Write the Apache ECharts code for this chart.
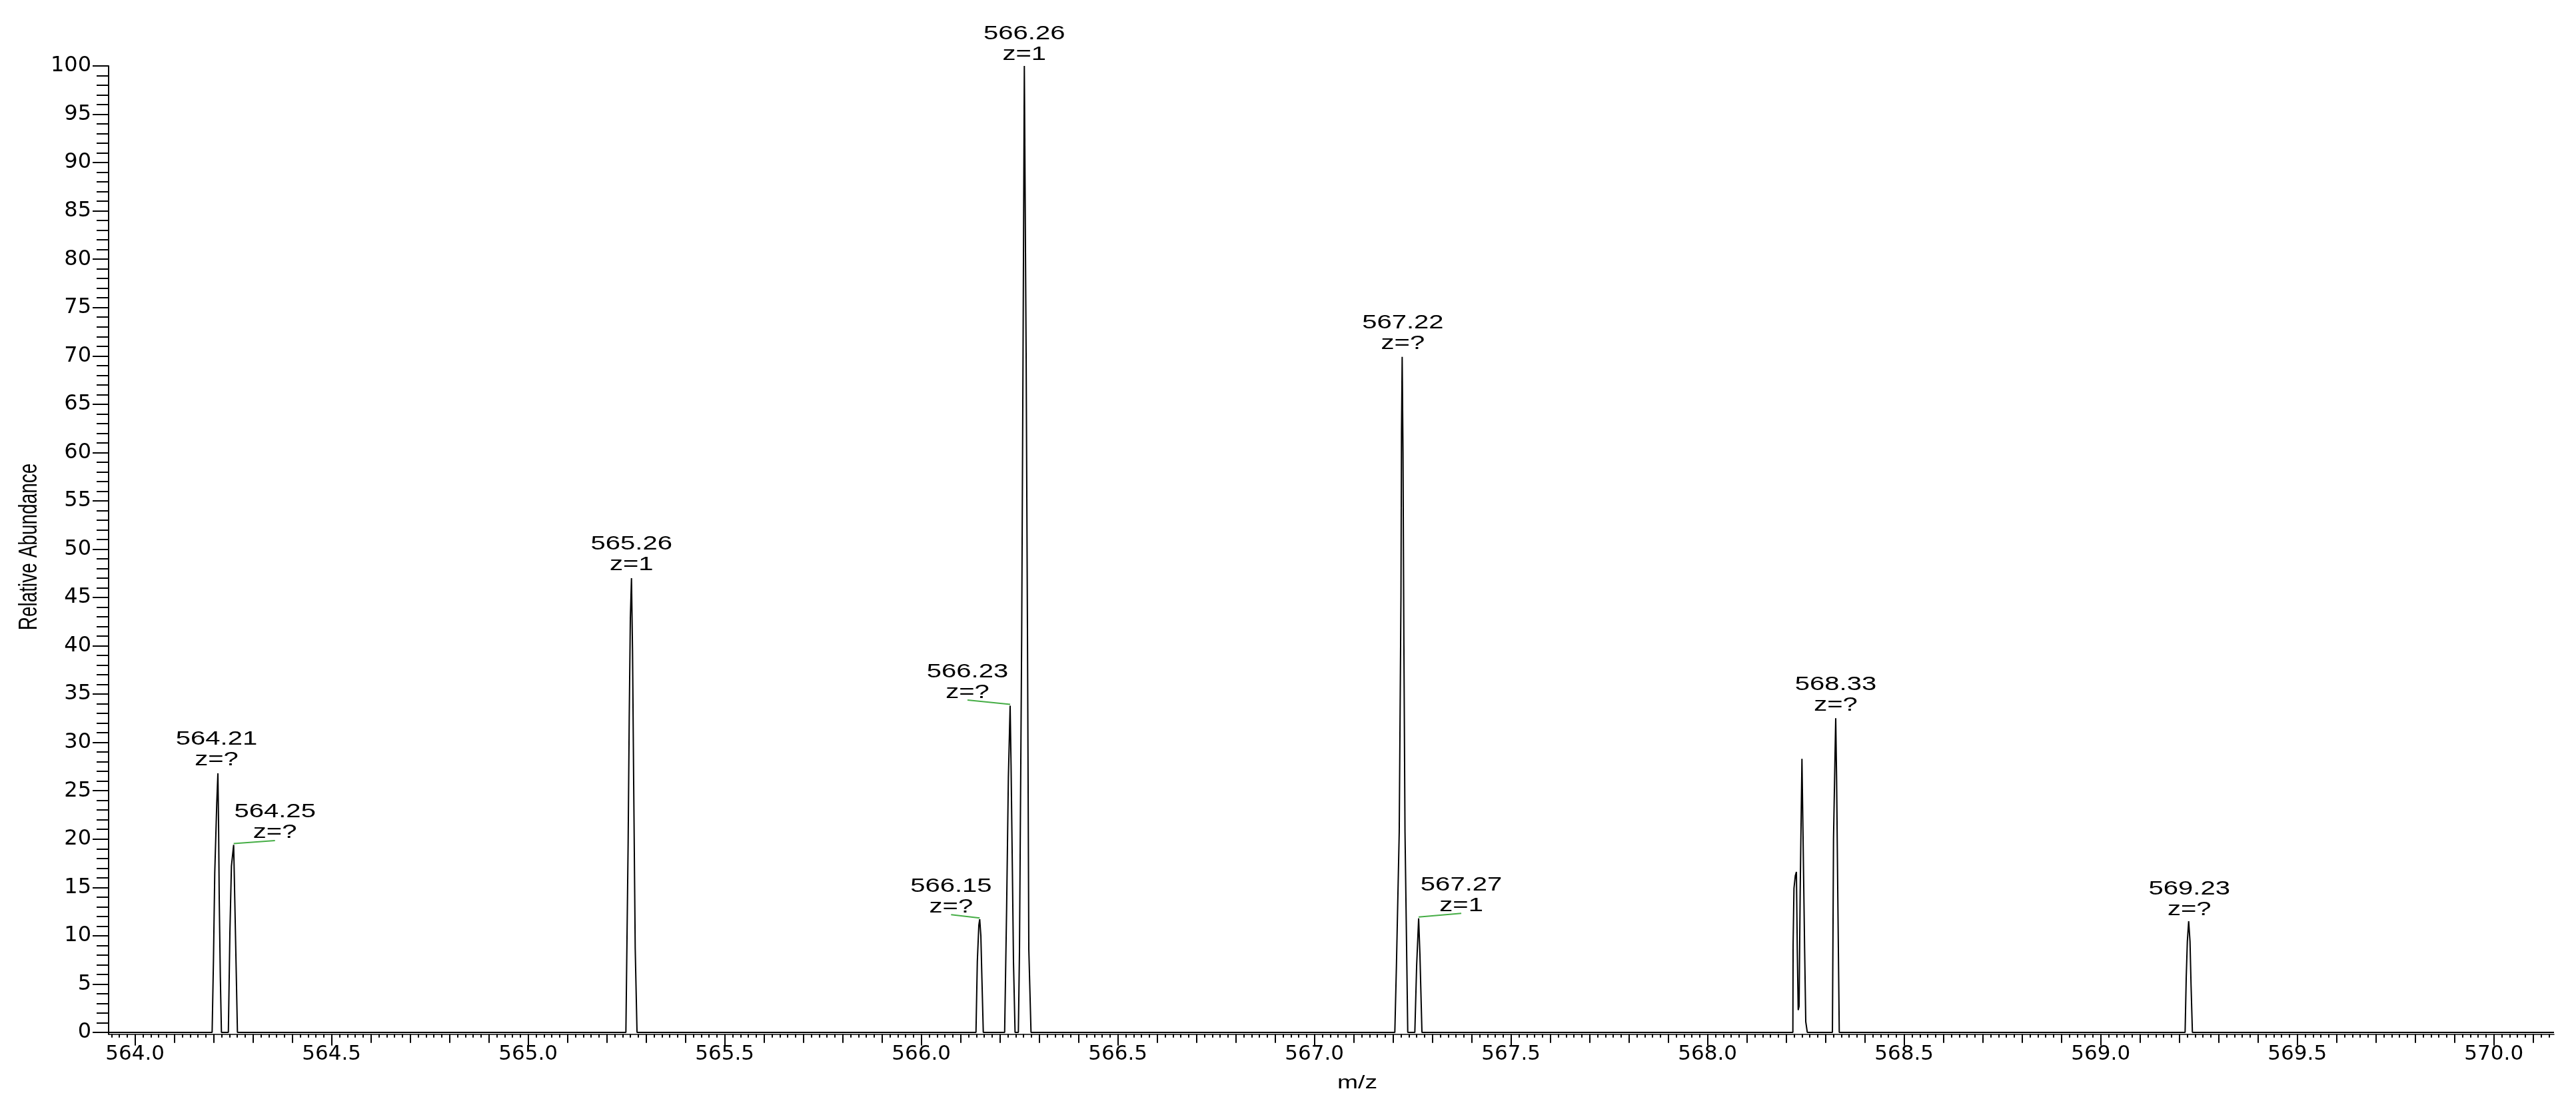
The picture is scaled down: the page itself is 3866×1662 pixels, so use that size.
<!DOCTYPE html>
<html>
<head>
<meta charset="utf-8">
<title>Mass spectrum</title>
<script src="https://cdn.jsdelivr.net/npm/echarts@6/dist/echarts.min.js"></script>
<style>
  html, body { margin: 0; padding: 0; background: #fff; }
  #chart { width: 3866px; height: 1662px; }
</style>
</head>
<body>
<div id="chart"></div>
<script>
// profile trace: m/z and relative abundance, point by point
const mzValues = [
  563.934,
  564.1960, 564.1994, 564.2027, 564.2078, 564.2107, 564.2124, 564.2141, 564.2169, 564.2197,
  564.2373, 564.2412, 564.2451, 564.2508, 564.2536, 564.2570, 564.2604,
  565.2485, 565.2542, 565.2570, 565.2598, 565.2627, 565.2654, 565.2683, 565.2722, 565.2768,
  566.1390, 566.1424, 566.1463, 566.1485, 566.1514, 566.1542, 566.1576,
  566.2119, 566.2169, 566.2214, 566.2259, 566.2282, 566.2316, 566.2344, 566.2384,
  566.2468, 566.2497, 566.2553, 566.2587, 566.2620, 566.2666, 566.2700, 566.2734, 566.2790,
  567.2044, 567.2085, 567.2156, 567.2200, 567.2214, 567.2231, 567.2252, 567.2275, 567.2303, 567.2350, 567.2373,
  567.2553, 567.2599, 567.2650, 567.2683, 567.2734,
  568.2169, 568.2175, 568.2197, 568.2231, 568.2259, 568.2281, 568.2305, 568.2327, 568.2356, 568.2400, 568.2429, 568.2468, 568.2497, 568.2536,
  568.3175, 568.3203, 568.3237, 568.3259, 568.3281, 568.3310, 568.3349,
  569.2146, 569.2175, 569.2203, 569.2237, 569.2271, 569.2298, 569.2332,
  570.153
];
const abundance = [
  0,
  0, 7.4, 16.5, 23.7, 26.8, 21.6, 13.8, 5.7, 0,
  0, 10.3, 17.2, 19.4, 13.8, 6.9, 0,
  0, 19.6, 32.6, 42.8, 47.0, 39.4, 25.8, 8.7, 0,
  0, 7.3, 11.1, 11.7, 10.0, 5.4, 0,
  0, 12.7, 26.4, 33.8, 27.7, 16.8, 7.3, 0,
  0, 8.6, 41.3, 70, 100, 70, 41.3, 8.6, 0,
  0, 6.9, 20.7, 45, 62, 69.9, 60, 40, 20.7, 6.9, 0,
  0, 6.9, 11.8, 8.0, 0,
  0, 9.1, 14.9, 16.2, 16.6, 8.6, 2.3, 2.7, 14.9, 28.3, 20.0, 8.6, 1.1, 0,
  0, 20.0, 27.7, 32.5, 26.4, 14.9, 0,
  0, 5.7, 9.4, 11.5, 9.4, 4.8, 0,
  0
];

// peak annotations
const peakLabels = ['564.21', '564.25', '565.26', '566.15', '566.23', '566.26', '567.22', '567.27', '568.33', '569.23'];
const peakCharge = ['z=?', 'z=?', 'z=1', 'z=?', 'z=?', 'z=1', 'z=?', 'z=1', 'z=?', 'z=?'];

// tick labels
const xTickLabels = ['564.0', '564.5', '565.0', '565.5', '566.0', '566.5', '567.0', '567.5', '568.0', '568.5', '569.0', '569.5', '570.0'];
const yTickLabels = ['0', '5', '10', '15', '20', '25', '30', '35', '40', '45', '50', '55', '60', '65', '70', '75', '80', '85', '90', '95', '100'];

// where each label sits relative to its peak top (px), and whether a leader is drawn
const labelShift = [[-2, -10], [62, -7.5], [0, -9], [-43, -8], [-64, -9.5], [0, -7], [1, -9], [64, -8.6], [0, -8.5], [1, -7]];
const hasLeader = [false, true, false, true, true, false, false, true, false, false];

const xMin = 563.9327, xMax = 570.153;
const yMin = -0.19, yMax = 100;

const trace = mzValues.map(function (m, i) { return [m, abundance[i]]; });

// peak top = highest trace point within 0.01 of the labelled m/z
const peakTops = peakLabels.map(function (lab, n) {
  const target = parseFloat(lab);
  let best = -1;
  for (let k = 0; k < mzValues.length; k++) {
    if (Math.abs(mzValues[k] - target) <= 0.01 && (best < 0 || abundance[k] > abundance[best])) best = k;
  }
  return [mzValues[best], abundance[best], n];
});

function steps(from, to, step) {
  const out = [];
  const n0 = Math.ceil(from / step - 1e-6), n1 = Math.floor(to / step + 1e-6);
  for (let n = n0; n <= n1; n++) out.push(+(n * step).toFixed(4));
  return out;
}

const xMajor = xTickLabels.map(Number);
const xTenth = steps(xMin, xMax, 0.1);
const xFine = steps(xMin, xMax, 0.02);
const yMajor = yTickLabels.map(Number);
const yFine = steps(0, 100, 1);

const black = '#000';

function xAxisLayer(ticks, len, withLine, withLabels) {
  return {
    type: 'value', min: xMin, max: xMax, position: 'bottom',
    axisLine: { show: withLine, onZero: false, lineStyle: { color: black, width: 1.5 } },
    axisTick: { show: true, customValues: ticks, length: len, lineStyle: { color: black, width: 2 } },
    axisLabel: withLabels ? {
      show: true, customValues: xMajor, margin: 15,
      formatter: function (v) { return v.toFixed(1); },
      fontFamily: 'DejaVu Sans', fontSize: 31, color: black
    } : { show: false },
    splitLine: { show: false }
  };
}

function yAxisLayer(ticks, len, withLine, withLabels) {
  return {
    type: 'value', min: yMin, max: yMax, position: 'left',
    axisLine: { show: withLine, onZero: false, lineStyle: { color: black, width: 2 } },
    axisTick: { show: true, customValues: ticks, length: len, lineStyle: { color: black, width: 2 } },
    axisLabel: withLabels ? {
      show: true, customValues: yMajor, margin: 26,
      fontFamily: 'DejaVu Sans', fontSize: 32, color: black
    } : { show: false },
    splitLine: { show: false }
  };
}

const chart = echarts.init(document.getElementById('chart'));
chart.setOption({
  animation: false,
  backgroundColor: '#fff',
  grid: { left: 163, right: 33, top: 99, bottom: 109.3 },
  xAxis: [
    xAxisLayer(xMajor, 17, true, true),
    xAxisLayer(xTenth, 13, false, false),
    xAxisLayer(xFine, 5, false, false)
  ],
  yAxis: [
    yAxisLayer(yMajor, 24, true, true),
    yAxisLayer(yFine, 18, false, false)
  ],
  graphic: [
    {
      type: 'text', x: 2037, y: 1627, scaleX: 1.38,
      style: { text: 'm/z', font: '27px "Liberation Sans"', fill: black, align: 'center', verticalAlign: 'middle', textAlign: 'center', textVerticalAlign: 'middle' }
    },
    {
      type: 'text', x: 44, y: 821, rotation: Math.PI / 2, scaleY: 1.38,
      style: { text: 'Relative Abundance', font: '28px "Liberation Sans"', fill: black, align: 'center', verticalAlign: 'middle', textAlign: 'center', textVerticalAlign: 'middle' }
    }
  ],
  series: [
    {
      type: 'line',
      data: trace,
      showSymbol: false,
      symbol: 'none',
      sampling: null,
      lineStyle: { color: black, width: 2 },
      z: 2
    },
    {
      type: 'custom',
      data: peakTops,
      encode: { x: 0, y: 1 },
      z: 3,
      renderItem: function (params, api) {
        const i = api.value(2);
        const p = api.coord([api.value(0), api.value(1)]);
        const s = labelShift[i];
        const ax = p[0] + s[0], ay = p[1] + s[1];
        const children = [];
        if (hasLeader[i]) {
          children.push({
            type: 'line',
            shape: { x1: p[0], y1: p[1] - 2, x2: ax, y2: ay + 1 },
            style: { stroke: '#45ad45', lineWidth: 2 }
          });
        }
        children.push({
          type: 'text', x: ax, y: ay + 5, scaleX: 1.38,
          style: {
            text: peakLabels[i] + '\n' + peakCharge[i],
            font: '29px "Liberation Sans"', fill: black, lineHeight: 31,
            align: 'center', verticalAlign: 'bottom', textAlign: 'center', textVerticalAlign: 'bottom'
          }
        });
        return { type: 'group', children: children };
      }
    }
  ]
});
</script>
</body>
</html>
